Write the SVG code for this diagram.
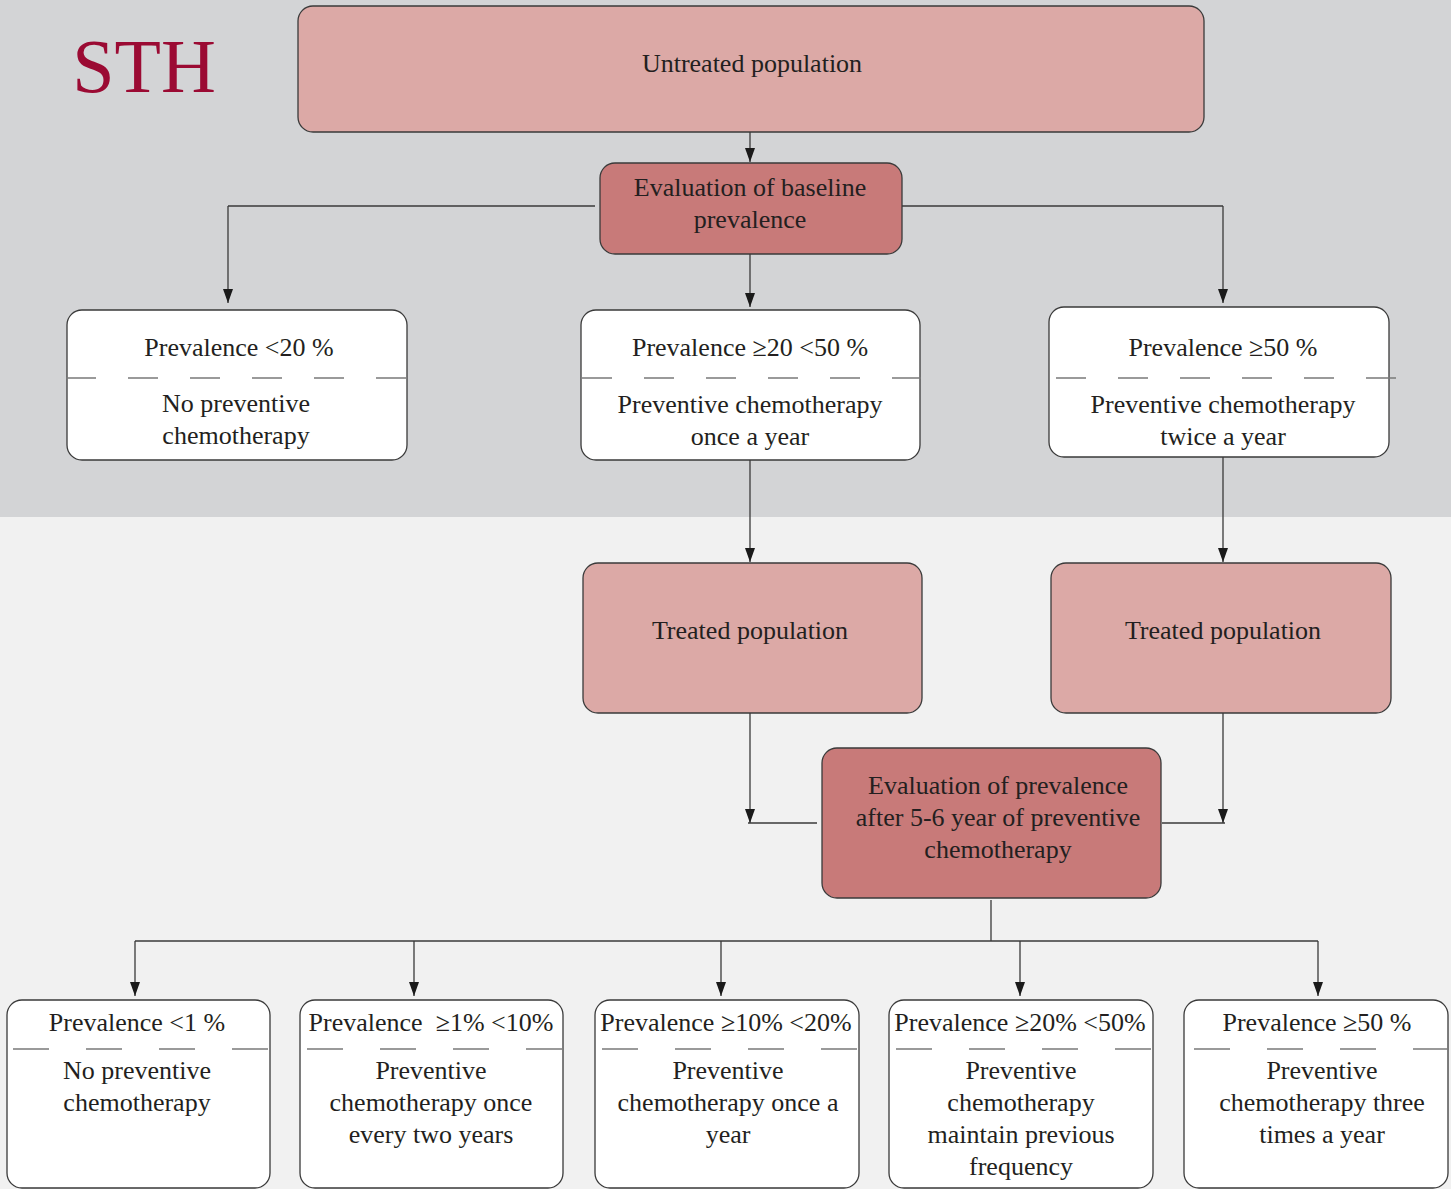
<svg xmlns="http://www.w3.org/2000/svg" width="1451" height="1189" viewBox="0 0 1451 1189">
<defs>
<marker id="ah" markerWidth="14" markerHeight="10" refX="14" refY="5" orient="auto" markerUnits="userSpaceOnUse" viewBox="0 0 14 10">
<path d="M0,0 L14,5 L0,10 Z" fill="#1a1a1a"/>
</marker>
</defs>
<style>
.t{font-family:"Liberation Serif","Times New Roman",serif;font-size:26px;fill:#231f20;text-anchor:middle}
.lt{fill:#dca9a6;stroke:#3a3a3a;stroke-width:1.3}
.dk{fill:#c87a79;stroke:#3a3a3a;stroke-width:1.3}
.wh{fill:#ffffff;stroke:#3a3a3a;stroke-width:1.3}
.ds{stroke:#7a7a7a;stroke-width:1.5;fill:none}
.c{stroke:#3a3a3a;stroke-width:1.3;fill:none}
.ca{stroke:#3a3a3a;stroke-width:1.3;fill:none;marker-end:url(#ah)}
</style>
<rect x="0" y="0" width="1451" height="517" fill="#d3d4d6"/>
<rect x="0" y="517" width="1451" height="672" fill="#f1f1f1"/>
<text x="144" y="92" style="font-family:'Liberation Serif','Times New Roman',serif;font-size:76px;fill:#9b0a33;text-anchor:middle">STH</text>

<g id="connectors">
<path class="ca" d="M750,132 V162"/>
<path class="c" d="M595,206 H228"/>
<path class="ca" d="M228,206 V303"/>
<path class="c" d="M902,206 H1223"/>
<path class="ca" d="M1223,206 V303"/>
<path class="ca" d="M750,254 V307"/>
<path class="ca" d="M750,460 V562"/>
<path class="ca" d="M1223,457 V562"/>
<path class="ca" d="M750,713 V823"/>
<path class="c" d="M748,823 H817"/>
<path class="ca" d="M1223,713 V823"/>
<path class="c" d="M1162,823 H1225"/>
<path class="c" d="M991,900 V941"/>
<path class="c" d="M135,941 H1318"/>
<path class="ca" d="M135,941 V996"/>
<path class="ca" d="M414,941 V996"/>
<path class="ca" d="M721,941 V996"/>
<path class="ca" d="M1020,941 V996"/>
<path class="ca" d="M1318,941 V996"/>
</g>

<g id="untreated">
<rect class="lt" x="298" y="6" width="906" height="126" rx="15"/>
<text class="t" x="752" y="72">Untreated population</text>
</g>
<g id="eval-baseline">
<rect class="dk" x="600" y="163" width="302" height="91" rx="15"/>
<text class="t" x="750" y="196">Evaluation of baseline</text>
<text class="t" x="750" y="228">prevalence</text>
</g>
<g id="prev-lt20">
<rect class="wh" x="67" y="310" width="340" height="150" rx="15"/>
<text class="t" x="239" y="356">Prevalence &lt;20 %</text>
<path class="ds" d="M66,378 H406" stroke-dasharray="30 32"/>
<text class="t" x="236" y="412">No preventive</text>
<text class="t" x="236" y="444">chemotherapy</text>
</g>
<g id="prev-20-50">
<rect class="wh" x="581" y="310" width="339" height="150" rx="15"/>
<text class="t" x="750" y="356">Prevalence ≥20 &lt;50 %</text>
<path class="ds" d="M582,378 H921" stroke-dasharray="30 32"/>
<text class="t" x="750" y="413">Preventive chemotherapy</text>
<text class="t" x="750" y="445">once a year</text>
</g>
<g id="prev-ge50">
<rect class="wh" x="1049" y="307" width="340" height="150" rx="15"/>
<text class="t" x="1223" y="356">Prevalence ≥50 %</text>
<path class="ds" d="M1056,378 H1396" stroke-dasharray="30 32"/>
<text class="t" x="1223" y="413">Preventive chemotherapy</text>
<text class="t" x="1223" y="445">twice a year</text>
</g>
<g id="treated-left">
<rect class="lt" x="583" y="563" width="339" height="150" rx="15"/>
<text class="t" x="750" y="639">Treated population</text>
</g>
<g id="treated-right">
<rect class="lt" x="1051" y="563" width="340" height="150" rx="15"/>
<text class="t" x="1223" y="639">Treated population</text>
</g>
<g id="eval-after">
<rect class="dk" x="822" y="748" width="339" height="150" rx="15"/>
<text class="t" x="998" y="794">Evaluation of prevalence</text>
<text class="t" x="998" y="826">after 5-6 year of preventive</text>
<text class="t" x="998" y="858">chemotherapy</text>
</g>
<g id="b1">
<rect class="wh" x="7" y="1000" width="263" height="188" rx="15"/>
<text class="t" x="137" y="1031">Prevalence &lt;1 %</text>
<path class="ds" d="M13,1049 H268" stroke-dasharray="36 37"/>
<text class="t" x="137" y="1079">No preventive</text>
<text class="t" x="137" y="1111">chemotherapy</text>
</g>
<g id="b2">
<rect class="wh" x="300" y="1000" width="263" height="188" rx="15"/>
<text class="t" x="431" y="1031" xml:space="preserve">Prevalence  ≥1% &lt;10%</text>
<path class="ds" d="M307,1049 H563" stroke-dasharray="36 37"/>
<text class="t" x="431" y="1079">Preventive</text>
<text class="t" x="431" y="1111">chemotherapy once</text>
<text class="t" x="431" y="1143">every two years</text>
</g>
<g id="b3">
<rect class="wh" x="595" y="1000" width="264" height="188" rx="15"/>
<text class="t" x="726" y="1031">Prevalence ≥10% &lt;20%</text>
<path class="ds" d="M602,1049 H858" stroke-dasharray="36 37"/>
<text class="t" x="728" y="1079">Preventive</text>
<text class="t" x="728" y="1111">chemotherapy once a</text>
<text class="t" x="728" y="1143">year</text>
</g>
<g id="b4">
<rect class="wh" x="889" y="1000" width="264" height="188" rx="15"/>
<text class="t" x="1020" y="1031">Prevalence ≥20% &lt;50%</text>
<path class="ds" d="M896,1049 H1153" stroke-dasharray="36 37"/>
<text class="t" x="1021" y="1079">Preventive</text>
<text class="t" x="1021" y="1111">chemotherapy</text>
<text class="t" x="1021" y="1143">maintain previous</text>
<text class="t" x="1021" y="1175">frequency</text>
</g>
<g id="b5">
<rect class="wh" x="1184" y="1000" width="264" height="188" rx="15"/>
<text class="t" x="1317" y="1031">Prevalence ≥50 %</text>
<path class="ds" d="M1194,1049 H1449" stroke-dasharray="36 37"/>
<text class="t" x="1322" y="1079">Preventive</text>
<text class="t" x="1322" y="1111">chemotherapy three</text>
<text class="t" x="1322" y="1143">times a year</text>
</g>
</svg>
